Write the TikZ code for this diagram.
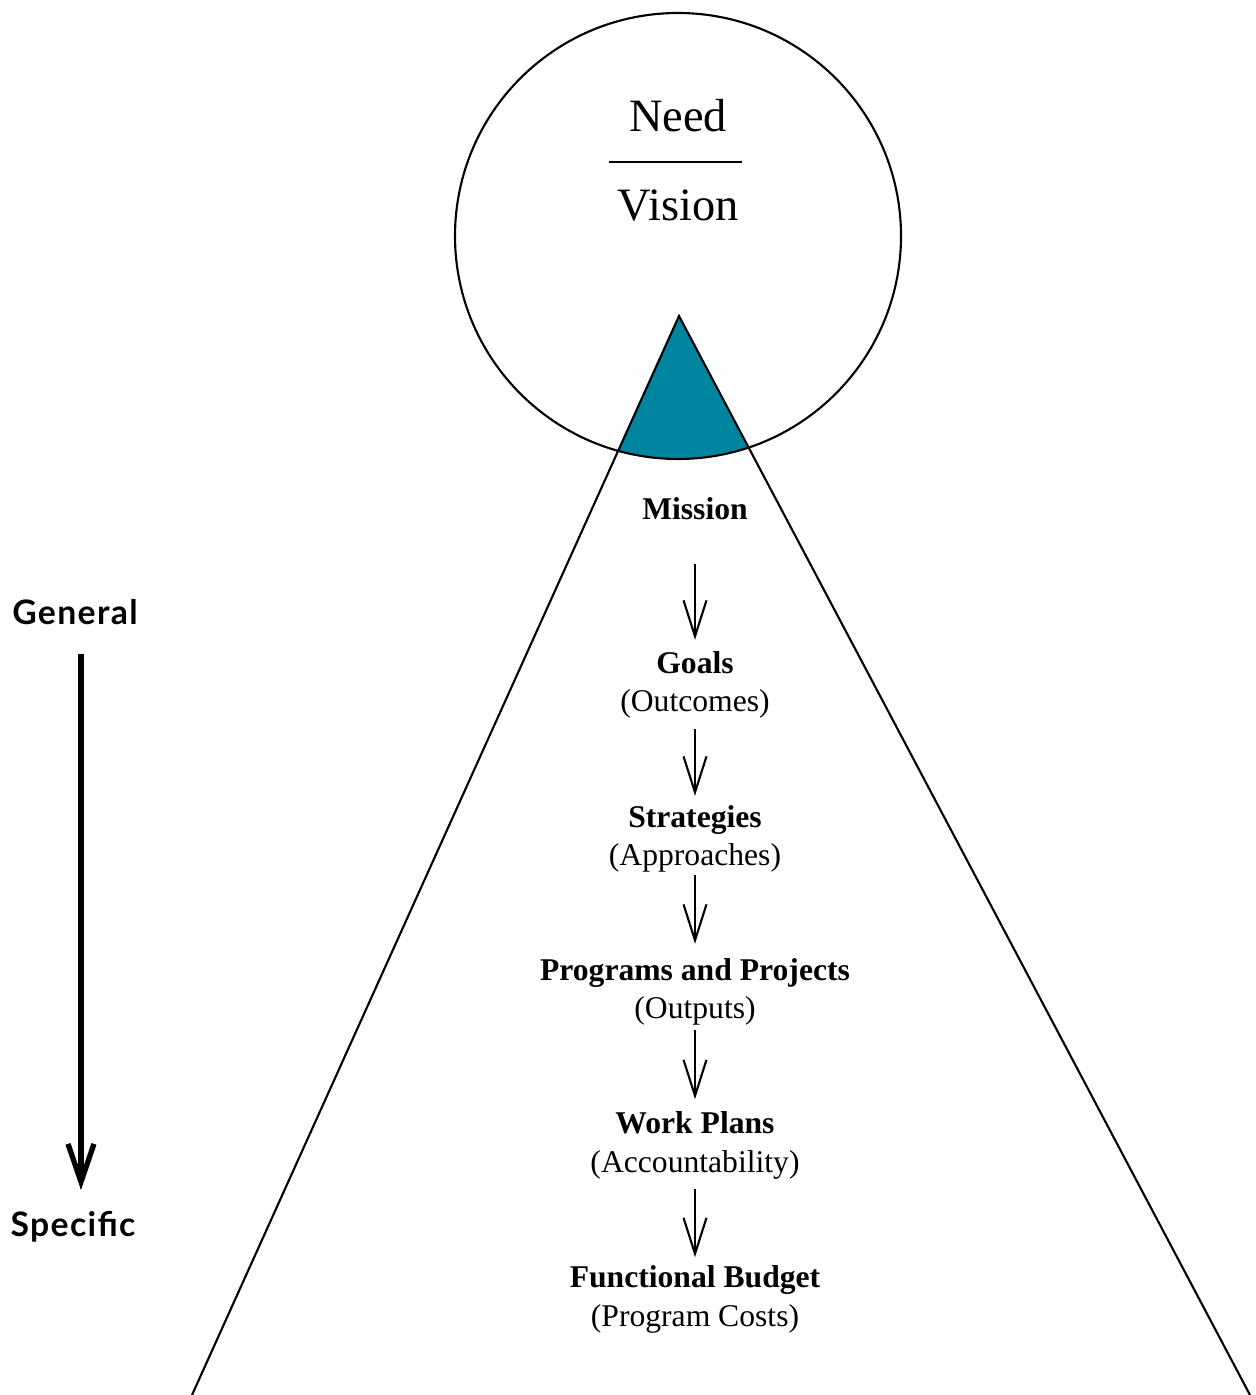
\documentclass[tikz,border=0pt]{standalone}
\usepackage{fontspec}
\setmainfont{Liberation Serif}
\newfontfamily\sidefont[LetterSpace=4]{Lato}
\usetikzlibrary{arrows.meta}
\definecolor{missionteal}{RGB}{0,133,161}
\tikzset{
    blk/.style={align=center,inner sep=0pt,font=\fontsize{9}{10.9}\selectfont},
    flow/.style={-{Straight Barb[length=3.6mm,width=2.3mm]},line width=0.6pt},
    side/.style={inner sep=0pt,font=\sidefont\bfseries\fontsize{9.6}{11}\selectfont}
}
\begin{document}
\begin{tikzpicture}
        \useasboundingbox (0,0) rectangle (12.55,-13.95);

        % teal part of the triangle inside the circle
        \begin{scope}
            \clip (6.78,-2.36) circle (2.23);
            \fill[missionteal] (1.92,-13.95) -- (6.79,-3.16) -- (12.50,-13.95) -- cycle;
        \end{scope}

        \node [draw,circle,minimum size=4.46cm,inner sep=0pt,line width=0.6pt](globe)at(6.78,-2.36){};
        \draw [line width=0.6pt] (1.92,-13.95) -- (6.79,-3.16) -- (12.50,-13.95);

        \node [inner sep=0pt,font=\fontsize{13.2}{15}\selectfont](need)at(6.78,-1.16){Need};
        \node [inner sep=0pt,font=\fontsize{13.2}{15}\selectfont](vision)at(6.78,-2.06){Vision};
        \draw [line width=0.6pt] (6.09,-1.62) -- (7.42,-1.62);

        \node [blk](mission)at(6.95,-5.09){\textbf{Mission}};
        \node [blk](goals)at(6.95,-6.85){\textbf{Goals}\\(Outcomes)};
        \node [blk](strat)at(6.95,-8.39){\textbf{Strategies}\\(Approaches)};
        \node [blk](progs)at(6.95,-9.92){\textbf{Programs and Projects}\\(Outputs)};
        \node [blk](work)at(6.95,-11.455){\textbf{Work Plans}\\(Accountability)};
        \node [blk](budget)at(6.95,-12.995){\textbf{Functional Budget}\\(Program Costs)};

        \draw [flow,shorten <=4.3mm,shorten >=1.1mm] (mission) -- (goals);
        \draw [flow,shorten <=1mm,shorten >=0.9mm] (goals) -- (strat);
        \draw [flow,shorten <=0.2mm,shorten >=1.4mm] (strat) -- (progs);
        \draw [flow,shorten <=0.4mm,shorten >=1.2mm] (progs) -- (work);
        \draw [flow,shorten <=0.9mm,shorten >=0.8mm] (work) -- (budget);

        \node [side](general)at(0.75,-6.12){General};
        \node [side](specific)at(0.73,-12.27){Specific};
        \draw [-{Straight Barb[length=3.8mm,width=2.6mm]},line width=1.5pt,shorten <=2.6mm,shorten >=2.8mm] (0.81,-6.28) -- (0.81,-12.18);
\end{tikzpicture}
\end{document}
